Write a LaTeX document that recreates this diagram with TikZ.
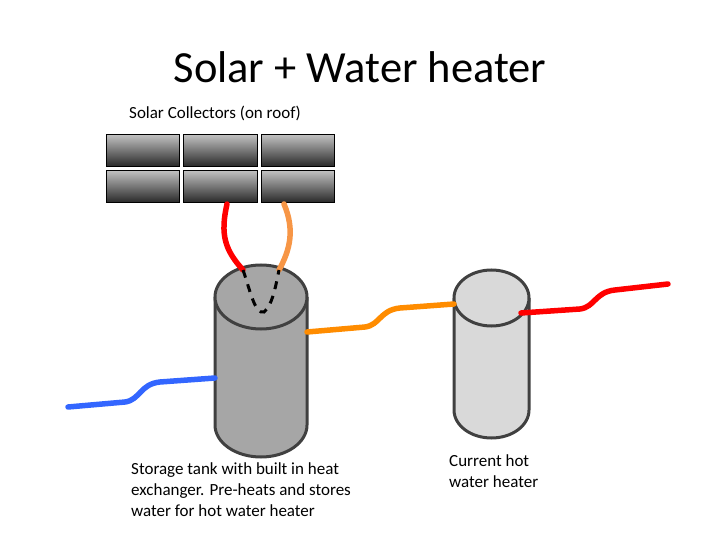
\documentclass[tikz,border=0pt]{standalone}
\usepackage{fontspec}
\setmainfont{Carlito}
\begin{document}
\begin{tikzpicture}[x=1pt,y=-1pt,
 panel/.style={draw=black,line width=1pt,top color=gray!50,bottom color=black!85},
 tank/.style={draw=black!75,line width=3pt},
 pipe/.style={line width=5.5pt,line cap=round},
 lbl/.style={anchor=north west,align=left,font=\fontsize{17}{21}\selectfont,inner sep=0pt}]
\useasboundingbox (0,0) rectangle (720,540);
\node (title) at (360,67) {\fontsize{44.5}{52}\selectfont Solar + Water heater};
\node[lbl] (sc) at (129,106) {Solar Collectors (on roof)};
\foreach \x/\w in {106/73,183/74,261/73}{
 \foreach \y in {135,171}{
  \shade[panel] (\x,\y) rectangle ++(\w,32);
 }}
% tank 1
\fill[black!35] (215,297) -- (215,425) arc[start angle=180,end angle=0,x radius=46,y radius=32] -- (307,297) -- cycle;
\draw[tank] (215,297) -- (215,425) arc[start angle=180,end angle=0,x radius=46,y radius=32] -- (307,297);
\draw[tank,fill=black!35] (261,297) ellipse[x radius=46,y radius=32];
% tank 2
\fill[black!15] (454,298) -- (454,410) arc[start angle=180,end angle=0,x radius=37.5,y radius=28] -- (529,298) -- cycle;
\draw[tank] (454,298) -- (454,410) arc[start angle=180,end angle=0,x radius=37.5,y radius=28] -- (529,298);
\draw[tank,fill=black!15] (491.5,298) ellipse[x radius=37.5,y radius=28];
% pipes
\coordinate (r1) at (227,204); \coordinate (r2) at (243,270);
\coordinate (o1) at (284,204); \coordinate (o2) at (279,270);
\draw[pipe,red] (r1) .. controls (220,235) and (225,250) .. (r2);
\draw[pipe,color={rgb,255:red,247;green,150;blue,70}] (o1) .. controls (295,230) and (290,250) .. (o2);
\draw[line width=3pt,dash pattern=on 8pt off 7pt] (r2) .. controls (250,290) and (255,315) .. (264,312) .. controls (272,305) and (275,290) .. (o2);
\coordinate (b1) at (68,407); \coordinate (b2) at (215,378);
\draw[pipe,color={rgb,255:red,51;green,102;blue,255}] (b1) -- (125,402) .. controls (140,400) and (140,384) .. (160,382) -- (b2);
\coordinate (m1) at (307,332); \coordinate (m2) at (454,304);
\draw[pipe,color={rgb,255:red,255;green,140;blue,0}] (m1) -- (365,327) .. controls (380,325) and (380,310) .. (400,308) -- (m2);
\coordinate (h1) at (521,313); \coordinate (h2) at (668,284);
\draw[pipe,red] (h1) -- (580,309) .. controls (595,307) and (595,292) .. (615,290) -- (h2);
\node[lbl] (st) at (131,462) {Storage tank with built in heat\\exchanger. Pre-heats and stores\\water for hot water heater};
\node[lbl] (cw) at (449,454) {Current hot\\water heater};
\end{tikzpicture}
\end{document}
